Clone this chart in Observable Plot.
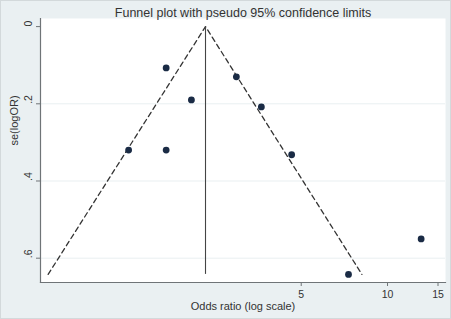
<!DOCTYPE html>
<html>
<head>
<meta charset="utf-8">
<script src="https://cdn.jsdelivr.net/npm/d3@7"></script>
<script src="https://cdn.jsdelivr.net/npm/@observablehq/plot@0.6"></script>
<style>
  html, body { margin: 0; padding: 0; background: #eaf0f2; }
  #chart svg { display: block; outline: 1px solid #d3d9db; outline-offset: -1px; }
</style>
</head>
<body>
<div id="chart"></div>
<script>
// Study estimates
const oddsRatio = [1.69, 2.07, 2.97, 3.63, 1.25, 1.69, 4.63, 13.1, 7.31];
const seLogOR   = [0.107, 0.190, 0.130, 0.208, 0.320, 0.320, 0.332, 0.550, 0.642];

// Pooled estimate and pseudo 95% confidence limits (funnel outline)
const pooledOR = [2.318];
const funnelOR = [0.655, 2.318, 8.14];
const funnelSE = [0.642, 0, 0.642];
const maxSE = 0.642;

// Axis ticks and texts
const xTicks = [5, 10, 15];
const yTicks = [0, 0.2, 0.4, 0.6];
const yGrid = [0.2, 0.4, 0.6];
const titleText = ["Funnel plot with pseudo 95% confidence limits"];
const xLabel = ["Odds ratio (log scale)"];
const yLabel = ["se(logOR)"];

const points = oddsRatio.map((or, i) => ({or, se: seLogOR[i]}));
const funnel = funnelOR.map((or, i) => ({or, se: funnelSE[i]}));
const yFmt = d => d === 0 ? "0" : d3.format(".1f")(d).replace(/^0/, "");

const font = "Arial, 'Liberation Sans', sans-serif";

const chart = Plot.plot({
  width: 451,
  height: 319,
  marginTop: 18,
  marginBottom: 37,
  marginLeft: 40,
  marginRight: 6,
  style: {background: "#eaf0f2", fontFamily: font, color: "#333"},
  x: {type: "log", domain: [0.616, 15.93], axis: null},
  y: {domain: [0.663, -0.021], axis: null},
  marks: [
    Plot.frame({fill: "white", stroke: "none"}),
    Plot.ruleY(yGrid, {stroke: "#e9eff1", strokeWidth: 1}),
    // axis lines
    Plot.frame({anchor: "left", stroke: "#6f7477", strokeWidth: 1.2}),
    Plot.frame({anchor: "bottom", stroke: "#6f7477", strokeWidth: 1.2}),
    // ticks only (labels drawn separately)
    Plot.axisY({ticks: yTicks, tickSize: 4, tickFormat: () => "", label: null, stroke: "#6f7477"}),
    Plot.axisX({ticks: xTicks, tickSize: 4, tickFormat: () => "", label: null, stroke: "#6f7477"}),
    // y tick labels
    Plot.text(yTicks, {y: d => d, text: yFmt, frameAnchor: "left", dx: -12, rotate: -90, fontSize: 10.5, fill: "#333"}),
    // x tick labels
    Plot.text(xTicks, {x: d => d, text: d => String(d), frameAnchor: "bottom", dy: 15, fontSize: 10.5, fill: "#333"}),
    // funnel
    Plot.line(funnel, {x: "or", y: "se", stroke: "#333", strokeWidth: 1.3, strokeDasharray: "5,3.5"}),
    Plot.ruleX(pooledOR, {x: d => d, y1: 0, y2: maxSE, stroke: "#444", strokeWidth: 1.1}),
    // studies
    Plot.dot(points, {x: "or", y: "se", r: 3.4, fill: "#1a2b45", stroke: "none"}),
    // titles
    Plot.text(titleText, {frameAnchor: "top", dy: -10, fontSize: 12.5, fill: "#333", text: d => d}),
    Plot.text(xLabel, {frameAnchor: "bottom", dy: 27, fontSize: 11, fill: "#333", text: d => d}),
    Plot.text(yLabel, {frameAnchor: "left", dx: -26, dy: -5, rotate: -90, fontSize: 11, fill: "#333", text: d => d})
  ]
});
document.getElementById("chart").appendChild(chart);
</script>
</body>
</html>
